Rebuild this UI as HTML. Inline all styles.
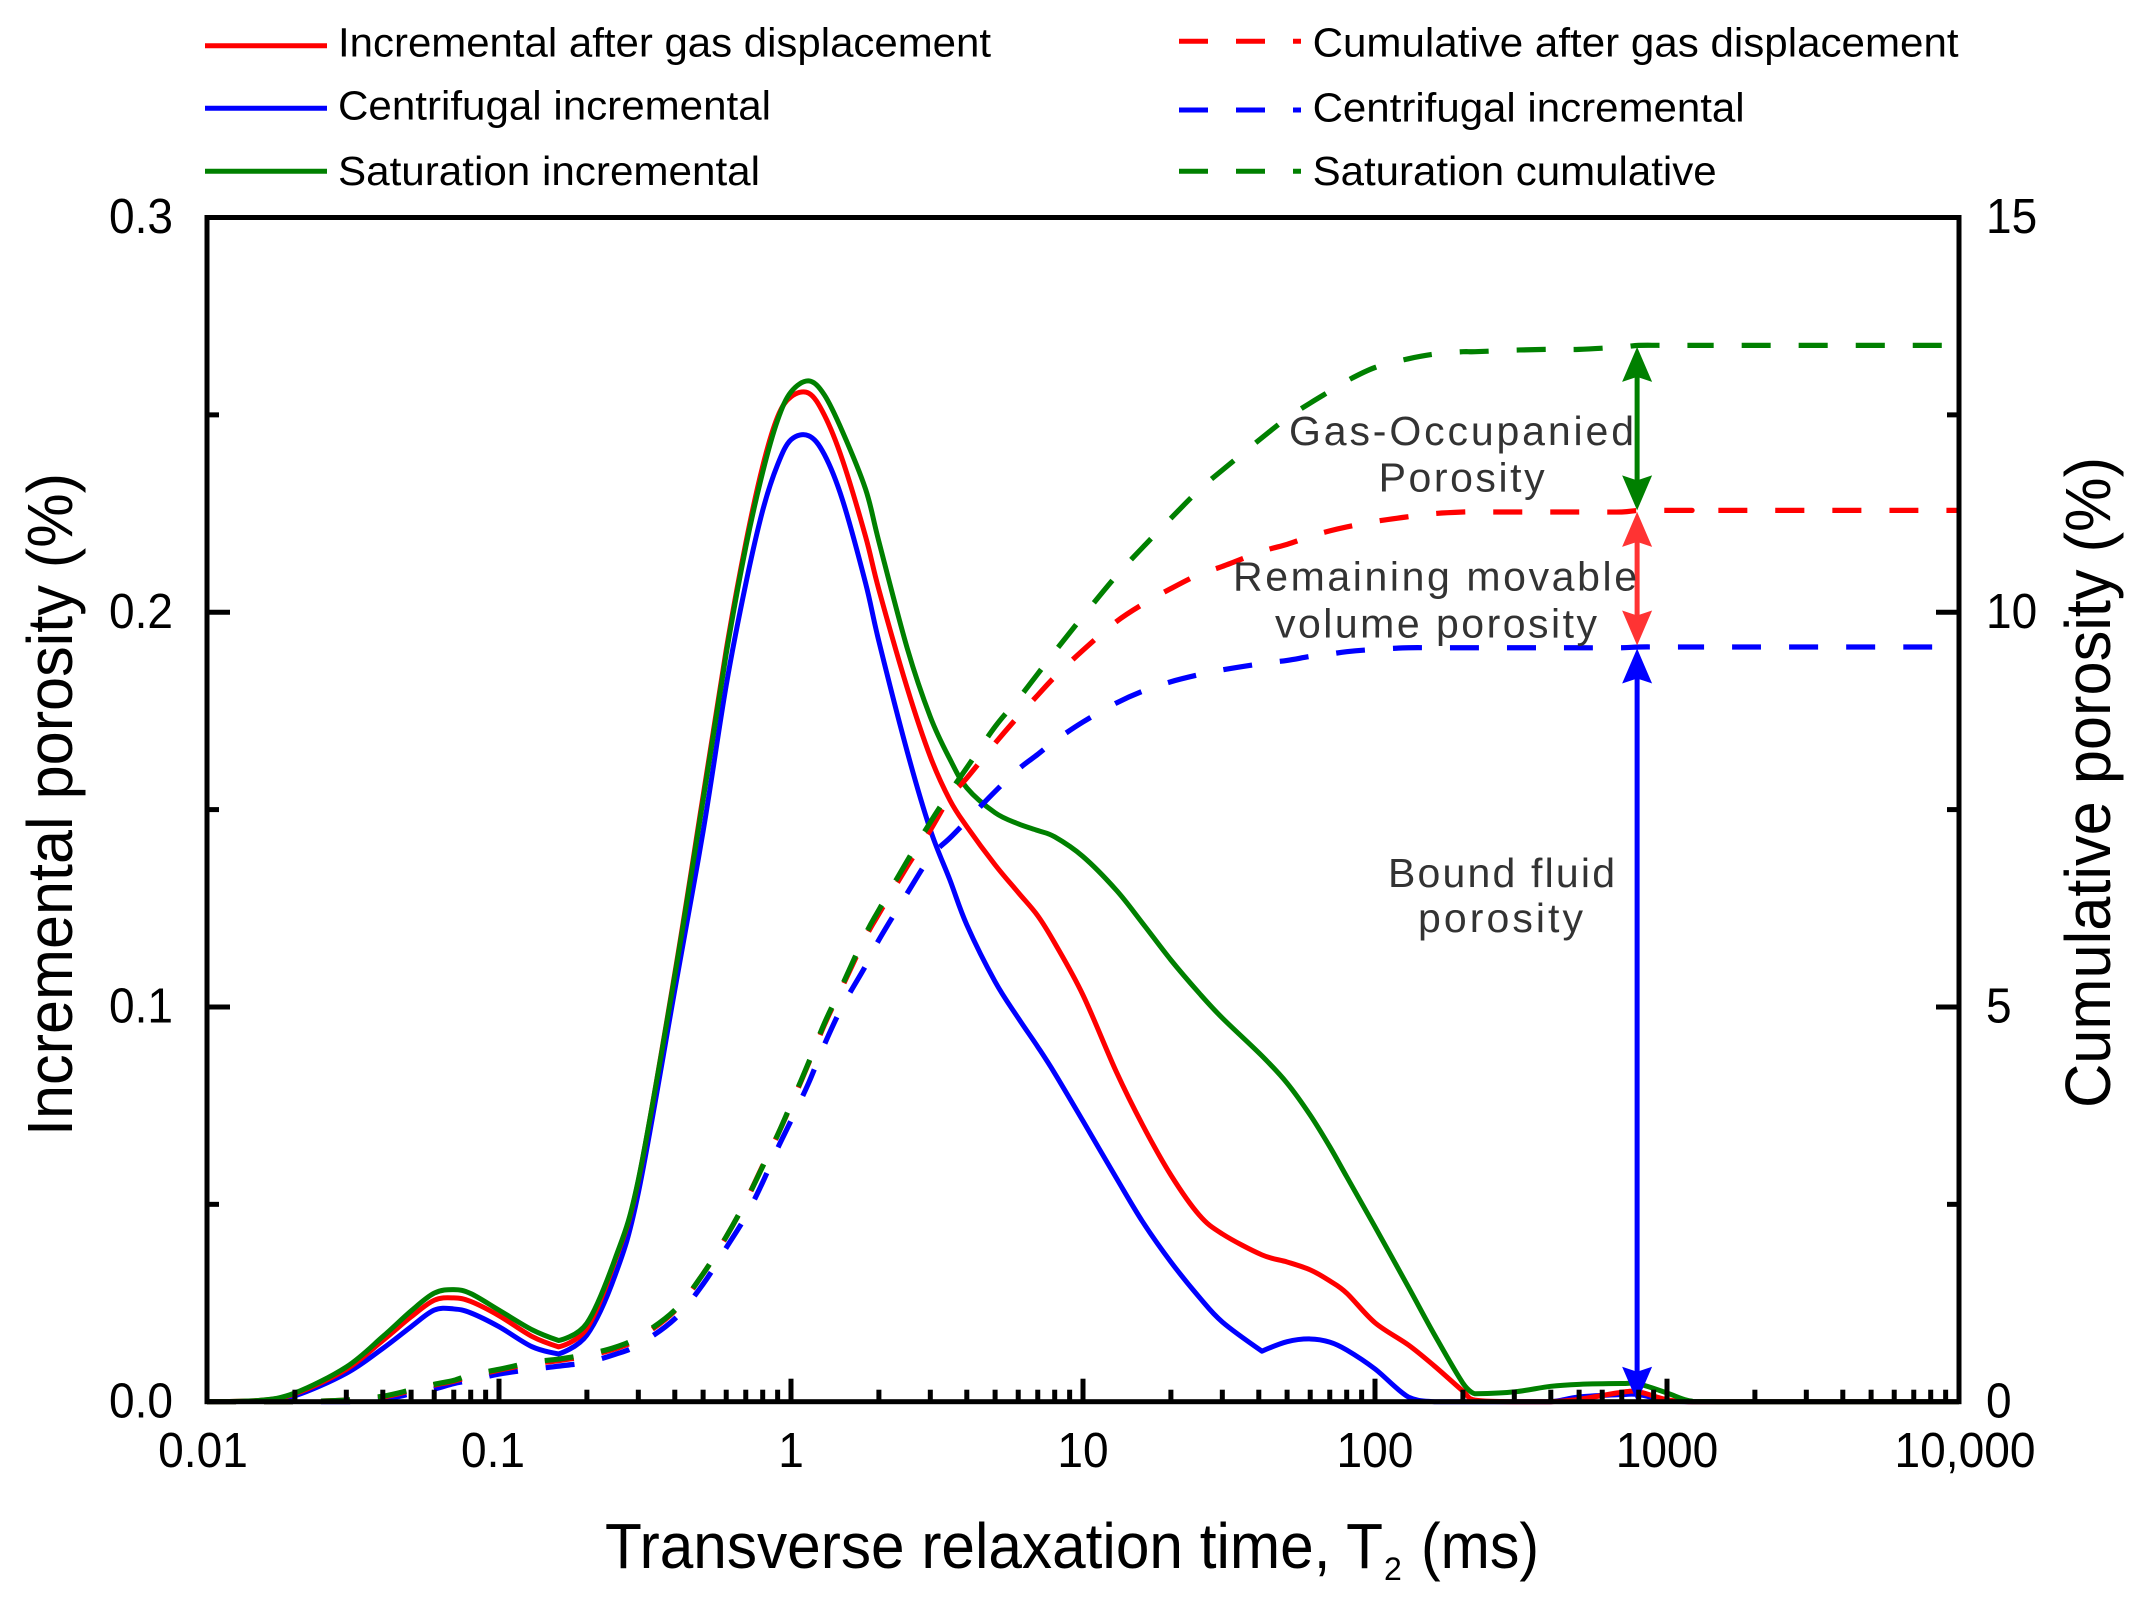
<!DOCTYPE html>
<html lang="en">
<head>
<meta charset="utf-8">
<title>T2 relaxation porosity chart</title>
<style>
html,body{margin:0;padding:0;background:#fff;width:2144px;height:1603px;overflow:hidden}
svg{display:block}
text{font-family:"Liberation Sans",Arial,sans-serif;fill:#000}
.note{fill:#333;font-size:41px}
.legend{font-size:41px}
.tick{font-size:49px}
.title{font-size:64px}
</style>
</head>
<body>
<svg id="chart" xmlns="http://www.w3.org/2000/svg" width="2144" height="1603" viewBox="0 0 2144 1603">
  <g id="series-layer"></g>
  <g id="arrow-layer"></g>
  <g id="axis-layer"></g>

  <g>
    <line x1="205" y1="45.7" x2="327" y2="45.7" stroke="#ff0000" stroke-width="5"/>
    <text class="legend" x="338" y="56.7" textLength="653" lengthAdjust="spacingAndGlyphs">Incremental after gas displacement</text>
    <line x1="205" y1="108.3" x2="327" y2="108.3" stroke="#0000ff" stroke-width="5"/>
    <text class="legend" x="338" y="119.3" textLength="433" lengthAdjust="spacingAndGlyphs">Centrifugal incremental</text>
    <line x1="205" y1="171.3" x2="327" y2="171.3" stroke="#008000" stroke-width="5"/>
    <text class="legend" x="338" y="185" textLength="422" lengthAdjust="spacingAndGlyphs">Saturation incremental</text>

    <line x1="1179" y1="41.3" x2="1301" y2="41.3" stroke="#ff0000" stroke-width="5" stroke-dasharray="29 28"/>
    <text class="legend" x="1312.6" y="56.7" textLength="646" lengthAdjust="spacingAndGlyphs">Cumulative after gas displacement</text>
    <line x1="1179" y1="110" x2="1301" y2="110" stroke="#0000ff" stroke-width="5" stroke-dasharray="29 28"/>
    <text class="legend" x="1312.6" y="121.7" textLength="432" lengthAdjust="spacingAndGlyphs">Centrifugal incremental</text>
    <line x1="1179" y1="171.3" x2="1301" y2="171.3" stroke="#008000" stroke-width="5" stroke-dasharray="29 28"/>
    <text class="legend" x="1312.6" y="185" textLength="404" lengthAdjust="spacingAndGlyphs">Saturation cumulative</text>
  </g>

  <g>
    <text class="title" x="605" y="1568" textLength="778" lengthAdjust="spacingAndGlyphs">Transverse relaxation time, T</text>
    <text x="1384" y="1580" style="font-size:32px">2</text>
    <text class="title" x="1421" y="1568" textLength="118" lengthAdjust="spacingAndGlyphs">(ms)</text>
    <text class="title" transform="translate(72 1136) rotate(-90)" textLength="663" lengthAdjust="spacingAndGlyphs">Incremental porosity (%)</text>
    <text class="title" transform="translate(2110 1108) rotate(-90)" textLength="651" lengthAdjust="spacingAndGlyphs">Cumulative porosity (%)</text>
  </g>

  <g>
    <text class="note" x="1289" y="445" textLength="345" lengthAdjust="spacing">Gas-Occupanied</text>
    <text class="note" x="1378.6" y="491.7" textLength="166" lengthAdjust="spacing">Porosity</text>
    <text class="note" x="1233" y="590.7" textLength="404" lengthAdjust="spacing">Remaining movable</text>
    <text class="note" x="1275" y="637.7" textLength="322" lengthAdjust="spacing">volume porosity</text>
    <text class="note" x="1388" y="887" textLength="227" lengthAdjust="spacing">Bound fluid</text>
    <text class="note" x="1418" y="932" textLength="165" lengthAdjust="spacing">porosity</text>
  </g>
</svg>

<script>
// ---- data ----
const t2Values = [0.01,0.015,0.02,0.03,0.04,0.05,0.06,0.07,0.08,0.1,0.13,0.16,0.2,0.25,0.3,0.4,0.5,0.6,0.7,0.8,0.9,1,1.15,1.3,1.5,1.8,2,2.5,3,3.5,4,5,6,7,8,10,13,16,20,25,30,41,50,60,70,80,100,130,160,200,220,300,400,500,700,800,1000,1200,1500,10000];

const incrementalBlue = [0,.0002,.0015,.0072,.0135,.019,.0232,.0235,.0225,.019,.0139,.0121,.0169,.0321,.0529,.1043,.1445,.1815,.2072,.2258,.2374,.2437,.2447,.24,.2285,.2074,.1926,.1647,.1449,.1322,.1208,.1064,.0972,.0899,.0832,.0711,.0567,.0456,.0354,.0265,.0202,.0128,.0152,.0159,.0151,.0131,.0083,.0012,0,0,0,0,0,.0012,.0018,.0018,.0003,0,0,0];
const incrementalRed = [0,.0003,.002,.0082,.0155,.0215,.0257,.0263,.0254,.0218,.0165,.0139,.0186,.0358,.056,.1085,.1535,.1905,.2175,.237,.2495,.2546,.2555,.25,.2386,.2192,.2057,.1808,.1634,.1524,.1457,.136,.129,.1231,.1162,.103,.0836,.0701,.0574,.0473,.0425,.0372,.0354,.0334,.0306,.0275,.02,.0144,.009,.0027,.0004,0,0,.0006,.0024,.0025,.0005,0,0,0];
const incrementalGreen = [0,.0003,.0022,.0088,.0165,.023,.0275,.0284,.0274,.0232,.0182,.0155,.0199,.0363,.0562,.108,.1525,.1895,.2165,.2355,.2487,.2558,.2586,.2551,.2458,.2312,.2179,.1909,.1735,.1628,.1555,.1492,.1464,.1447,.1431,.1381,.1296,.1212,.1119,.1035,.0972,.0876,.0807,.0726,.0646,.057,.0443,.0291,.0169,.0047,.002,.0025,.0039,.0044,.0046,.0045,.0022,.0002,0,0];

const cumulativeBlue = [0,0,0,0,.03,.10,.16,.23,.27,.35,.41,.45,.50,.60,.72,1.05,1.49,1.95,2.35,2.78,3.21,3.56,4.04,4.52,5.01,5.52,5.85,6.44,6.90,7.14,7.36,7.73,8.01,8.20,8.37,8.61,8.85,9.00,9.12,9.21,9.27,9.35,9.39,9.44,9.47,9.50,9.53,9.55,9.55,9.55,9.55,9.55,9.55,9.55,9.55,9.56,9.56,9.56,9.56,9.56];
const cumulativeRed = [0,0,0,.02,.06,.14,.21,.26,.32,.40,.48,.52,.58,.67,.80,1.15,1.62,2.09,2.54,2.99,3.38,3.76,4.29,4.77,5.26,5.88,6.18,6.78,7.24,7.66,7.90,8.34,8.68,8.95,9.18,9.52,9.88,10.10,10.30,10.48,10.58,10.77,10.86,10.96,11.03,11.08,11.15,11.21,11.25,11.27,11.27,11.27,11.27,11.27,11.27,11.29,11.29,11.29,11.29,11.29];
const cumulativeGreen = [0,0,0,.02,.07,.15,.22,.27,.34,.41,.50,.54,.60,.69,.82,1.16,1.62,2.09,2.54,2.98,3.38,3.77,4.30,4.79,5.28,5.92,6.23,6.85,7.34,7.72,8.03,8.55,8.90,9.22,9.50,9.95,10.46,10.82,11.19,11.55,11.80,12.21,12.46,12.65,12.80,12.93,13.10,13.21,13.27,13.30,13.30,13.32,13.33,13.33,13.36,13.38,13.38,13.38,13.38,13.38];

const xMajorTicks = [0.01,0.1,1,10,100,1000,10000];
const xTickLabels = ['0.01','0.1','1','10','100','1000','10,000'];
const xMinorMultipliers = [2,3,4,5,6,7,8,9];
const leftTickValues = [0,0.05,0.1,0.15,0.2,0.25,0.3];
const leftTickLabels = ['0.0','','0.1','','0.2','','0.3'];
const rightTickLabels = ['0','','5','','10','','15'];
const arrowT2 = 790;

// ---- axes functions ----
const plotLeft = 207, plotRight = 1959, plotTop = 217.5, plotBottom = 1401.7;
const svgNS = 'http://www.w3.org/2000/svg';
function xScale(t){ return plotLeft + (Math.log10(t) + 2) / 6 * (plotRight - plotLeft); }
function yLeft(v){ return plotBottom - v / 0.3 * (plotBottom - plotTop); }
function yRight(v){ return plotBottom - v / 15 * (plotBottom - plotTop); }

function make(tag, parent, attrs){
  const el = document.createElementNS(svgNS, tag);
  for (const k in attrs) el.setAttribute(k, attrs[k]);
  parent.appendChild(el);
  return el;
}

// Catmull-Rom smoothing; a sharp fall-then-level/rise (valley corner) stays sharp
function tangentAt(pts, i){
  const p0 = pts[Math.max(i - 1, 0)], p1 = pts[i], p2 = pts[Math.min(i + 1, pts.length - 1)];
  const ax = p1[0] - p0[0], ay = p1[1] - p0[1], bx = p2[0] - p1[0], by = p2[1] - p1[1];
  const la = Math.hypot(ax, ay), lb = Math.hypot(bx, by);
  const falling = ay > 0 && by <= 0.5;
  if (falling && la > 0 && lb > 0 && (ax * bx + ay * by) / (la * lb) < 0.85) return [0, 0];
  return [(p2[0] - p0[0]) / 6, (p2[1] - p0[1]) / 6];
}
function smoothPath(pts){
  let d = 'M' + pts[0][0].toFixed(2) + ' ' + pts[0][1].toFixed(2);
  for (let i = 0; i < pts.length - 1; i++){
    const p1 = pts[i], p2 = pts[i + 1], t1 = tangentAt(pts, i), t2 = tangentAt(pts, i + 1);
    const c1x = p1[0] + t1[0], c1y = Math.min(plotBottom, p1[1] + t1[1]);
    const c2x = p2[0] - t2[0], c2y = Math.min(plotBottom, p2[1] - t2[1]);
    d += 'C' + c1x.toFixed(2) + ' ' + c1y.toFixed(2) + ' ' + c2x.toFixed(2) + ' ' + c2y.toFixed(2) + ' ' + p2[0].toFixed(2) + ' ' + p2[1].toFixed(2);
  }
  return d;
}

// ---- series ----
const seriesLayer = document.getElementById('series-layer');
function drawSeries(values, yFn, color, dashed, name){
  const pts = values.map(function(v, i){ return [xScale(t2Values[i]), yFn(v)]; });
  const el = make('path', seriesLayer, {
    d: smoothPath(pts), fill: 'none', stroke: color, 'stroke-width': dashed ? 5.2 : 5,
    'stroke-linejoin': 'round'
  });
  if (dashed) el.setAttribute('stroke-dasharray', '29 28');
  
  
}
drawSeries(incrementalBlue, yLeft, '#0000ff', false, 'centrifugal-incremental-line');
drawSeries(incrementalRed, yLeft, '#ff0000', false, 'incremental-after-gas-line');
drawSeries(incrementalGreen, yLeft, '#008000', false, 'saturation-incremental-line');
drawSeries(cumulativeBlue, yRight, '#0000ff', true, 'centrifugal-cumulative-line');
drawSeries(cumulativeRed, yRight, '#ff0000', true, 'cumulative-after-gas-line');
drawSeries(cumulativeGreen, yRight, '#008000', true, 'saturation-cumulative-line');

// ---- double arrows ----
const arrowLayer = document.getElementById('arrow-layer');
function drawArrow(yTop, yBottom, color, name){
  const x = xScale(arrowT2);
  const g = make('g', arrowLayer, {});
  
  
  make('line', g, {x1: x, x2: x, y1: yTop + 20, y2: yBottom - 20, stroke: color, 'stroke-width': 5});
  make('polygon', g, {fill: color, points:
    x + ',' + yTop + ' ' + (x + 15) + ',' + (yTop + 35) + ' ' + x + ',' + (yTop + 30) + ' ' + (x - 15) + ',' + (yTop + 35)});
  make('polygon', g, {fill: color, points:
    x + ',' + yBottom + ' ' + (x + 15) + ',' + (yBottom - 35) + ' ' + x + ',' + (yBottom - 30) + ' ' + (x - 15) + ',' + (yBottom - 35)});
}
const gasTopLevel = cumulativeGreen[cumulativeGreen.length - 1];
const redLevel = cumulativeRed[cumulativeRed.length - 1];
const blueLevel = cumulativeBlue[cumulativeBlue.length - 1];
drawArrow(yRight(gasTopLevel) + 1.5, yRight(redLevel), '#008000', 'gas-occupied-porosity-arrow');
drawArrow(yRight(redLevel) + 1.5, yRight(blueLevel) - 1.5, '#ff3333', 'remaining-movable-porosity-arrow');
drawArrow(yRight(blueLevel) + 1.5, plotBottom, '#0000ff', 'bound-fluid-porosity-arrow');

// ---- axes ----
const axisLayer = document.getElementById('axis-layer');
function tickLine(x1, y1, x2, y2, name){
  const el = make('line', axisLayer, {x1: x1, y1: y1, x2: x2, y2: y2, stroke: '#000', 'stroke-width': 5});
  
  
}
function tickText(x, y, label, anchor, name){
  const el = make('text', axisLayer, {x: x, y: y, 'text-anchor': anchor, 'class': 'tick'});
  el.textContent = label;
  
  
  el.setAttribute('textLength', (el.getComputedTextLength() * 0.94).toFixed(1));
  el.setAttribute('lengthAdjust', 'spacingAndGlyphs');
}

const frame = make('rect', axisLayer, {x: plotLeft, y: plotTop, width: plotRight - plotLeft, height: plotBottom - plotTop, fill: 'none', stroke: '#000', 'stroke-width': 5});



xMajorTicks.forEach(function(t, i){
  const x = xScale(t);
  if (i > 0 && i < xMajorTicks.length - 1) tickLine(x, plotBottom, x, plotBottom - 23, 'x-major-tick');
  const nudge = i === 0 ? -4 : (i === 1 ? -6 : (i === xMajorTicks.length - 1 ? 6 : 0));
  tickText(x + nudge, 1467, xTickLabels[i], 'middle', 'x-tick-label');
  if (i < xMajorTicks.length - 1){
    xMinorMultipliers.forEach(function(m){
      const xm = xScale(t * m);
      tickLine(xm, plotBottom, xm, plotBottom - 12, 'x-minor-tick');
    });
  }
});

leftTickValues.forEach(function(v, i){
  const y = yLeft(v);
  const major = i % 2 === 0;
  if (i > 0 && i < leftTickValues.length - 1){
    tickLine(plotLeft, y, plotLeft + (major ? 23 : 12), y, 'left-y-tick');
    tickLine(plotRight, y, plotRight - (major ? 23 : 12), y, 'right-y-tick');
  }
  if (leftTickLabels[i]) tickText(173, y + 15.6, leftTickLabels[i], 'end', 'left-y-tick-label');
  if (rightTickLabels[i]) tickText(1986, y + 15.6, rightTickLabels[i], 'start', 'right-y-tick-label');
});
</script>
</body>
</html>
